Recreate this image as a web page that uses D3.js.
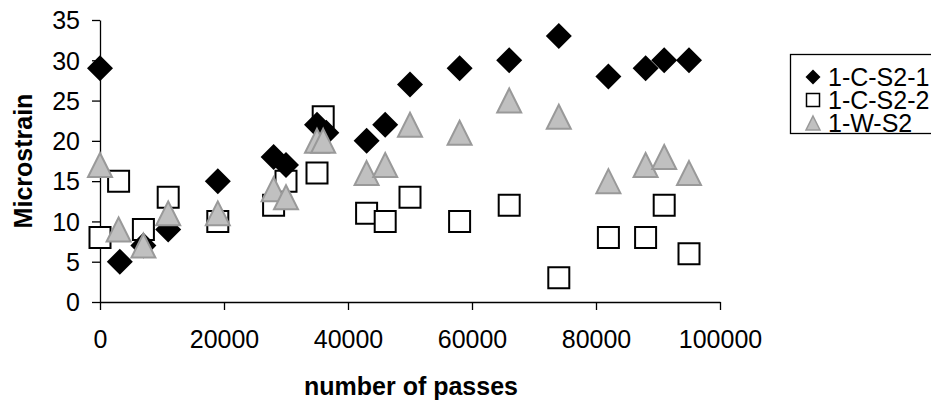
<!DOCTYPE html>
<html>
<head>
<meta charset="utf-8">
<script src="https://cdn.jsdelivr.net/npm/d3@7"></script>
<style>
  html, body { margin: 0; padding: 0; background: #fff; }
  svg { display: block; font-family: "Liberation Sans", Arial, sans-serif; }
</style>
</head>
<body>
<svg id="chart" width="931" height="400"></svg>
<script>
// Strain readings against number of passes, three gauges
const seriesNames = ["1-C-S2-1", "1-C-S2-2", "1-W-S2"];

const passesCS21 = [0, 3200, 7000, 11000, 19000, 28000, 30000, 35000, 36500, 43000, 46000, 50000, 58000, 66000, 74000, 82000, 88000, 91000, 95000];
const strainCS21 = [29, 5, 7, 9, 15, 18, 17, 22, 21, 20, 22, 27, 29, 30, 33, 28, 29, 30, 30];

const passesCS22 = [0, 3000, 7000, 11000, 19000, 28000, 30000, 35000, 36000, 43000, 46000, 50000, 58000, 66000, 74000, 82000, 88000, 91000, 95000];
const strainCS22 = [8, 15, 9, 13, 10, 12, 15, 16, 23, 11, 10, 13, 10, 12, 3, 8, 8, 12, 6];

const passesWS2 = [0, 3000, 7000, 11000, 19000, 28000, 30000, 35000, 36000, 43000, 46000, 50000, 58000, 66000, 74000, 82000, 88000, 91000, 95000];
const strainWS2 = [17, 9, 7, 11, 11, 14, 13, 20, 20, 16, 17, 22, 21, 25, 23, 15, 17, 18, 16];

const xTicks = [0, 20000, 40000, 60000, 80000, 100000];
const yTicks = [0, 5, 10, 15, 20, 25, 30, 35];

const svg = d3.select("#chart");
const FS = 25;

const x = d3.scaleLinear().domain([0, 100000]).range([100, 720]);
const y = d3.scaleLinear().domain([0, 35]).range([302, 20]);

// marker shapes, centred on the origin
const shapes = {
  diamond: s => `M0,${-s}L${s},0L0,${s}L${-s},0Z`,
  square: s => `M${-s},${-s}H${s}V${s}H${-s}Z`,
  triangle: s => `M0,${-s}L${s},${s}H${-s}Z`
};
const styles = [
  { shape: "diamond", size: 13, fill: "#000", stroke: "#000", sw: 0 },
  { shape: "square", size: 10.5, fill: "#fff", stroke: "#000", sw: 2 },
  { shape: "triangle", size: 12, fill: "#c0c0c0", stroke: "#999", sw: 2 }
];
const series = [
  { xs: passesCS21, ys: strainCS21 },
  { xs: passesCS22, ys: strainCS22 },
  { xs: passesWS2, ys: strainWS2 }
];

// axes
const xAxis = d3.axisBottom(x).tickValues(xTicks).tickSize(8).tickSizeOuter(0).tickFormat(d3.format("d"));
const yAxis = d3.axisLeft(y).tickValues(yTicks).tickSize(8).tickSizeOuter(0).tickFormat(d3.format("d"));

const gx = svg.append("g").attr("transform", "translate(0,302)").call(xAxis);
gx.selectAll("text").attr("font-size", FS).attr("fill", "#000").attr("dy", null).attr("y", 46).attr("font-family", "Liberation Sans, Arial, sans-serif");
gx.selectAll("line, path").attr("stroke", "#000").attr("stroke-width", 1.3);

const gy = svg.append("g").attr("transform", "translate(100,0)").call(yAxis);
gy.selectAll("text").attr("font-size", FS).attr("fill", "#000").attr("x", -20).attr("dy", "0.35em").attr("font-family", "Liberation Sans, Arial, sans-serif");
gy.selectAll("line, path").attr("stroke", "#000").attr("stroke-width", 1.3);

// axis titles
svg.append("text")
  .attr("x", 411).attr("y", 395)
  .attr("text-anchor", "middle")
  .attr("font-size", FS).attr("font-weight", "bold")
  .text("number of passes");

svg.append("text")
  .attr("transform", "translate(32,161) rotate(-90)")
  .attr("text-anchor", "middle")
  .attr("font-size", FS).attr("font-weight", "bold")
  .text("Microstrain");

// points: squares first, then diamonds, then triangles on top
[1, 0, 2].forEach(i => {
  const st = styles[i];
  const s = series[i];
  svg.append("g").selectAll("path")
    .data(s.xs.map((v, k) => [v, s.ys[k]]))
    .join("path")
    .attr("transform", d => `translate(${x(d[0])},${y(d[1])})`)
    .attr("d", shapes[st.shape](st.size))
    .attr("fill", st.fill)
    .attr("stroke", st.stroke)
    .attr("stroke-width", st.sw);
});

// legend
const lg = svg.append("g");
lg.append("rect")
  .attr("x", 790.5).attr("y", 54.5).attr("width", 145).attr("height", 79)
  .attr("fill", "#fff").attr("stroke", "#000").attr("stroke-width", 1.3);

const legendSizes = [7.5, 6.5, 7];
seriesNames.forEach((name, i) => {
  const st = styles[i];
  const cy = 77 + i * 23;
  lg.append("path")
    .attr("transform", `translate(813,${cy})`)
    .attr("d", shapes[st.shape](legendSizes[i]))
    .attr("fill", st.fill).attr("stroke", st.stroke)
    .attr("stroke-width", st.sw ? 1.5 : 0);
  lg.append("text")
    .attr("x", 828).attr("y", cy).attr("dy", "0.36em")
    .attr("font-size", FS)
    .text(name);
});
</script>
</body>
</html>
